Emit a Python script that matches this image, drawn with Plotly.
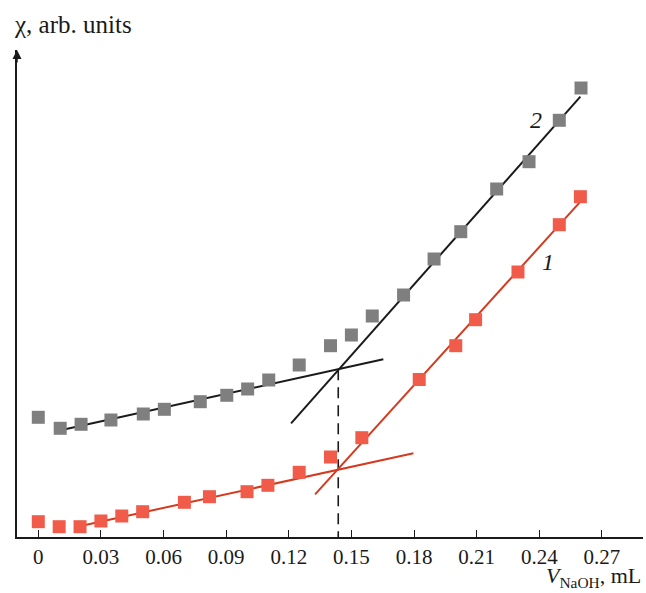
import plotly.graph_objects as go

# Series 1 (red)
x1 = [0, 0.01, 0.02, 0.03, 0.04, 0.05, 0.07, 0.082, 0.10, 0.11, 0.125, 0.14, 0.155, 0.1825, 0.20, 0.2095, 0.2298, 0.2496, 0.2597]
y1 = [1.53, 1.03, 1.03, 1.6, 2.1, 2.53, 3.47, 4.03, 4.53, 5.17, 6.47, 8.0, 9.93, 15.75, 19.13, 21.73, 26.5, 31.23, 34.03]
# Series 2 (gray)
x2 = [0, 0.0105, 0.0205, 0.0348, 0.0503, 0.0604, 0.0776, 0.0903, 0.1003, 0.1104, 0.125, 0.140, 0.150, 0.160, 0.175, 0.1896, 0.2024, 0.2196, 0.2351, 0.2496, 0.260]
y2 = [11.97, 10.87, 11.27, 11.7, 12.3, 12.77, 13.53, 14.17, 14.8, 15.7, 17.2, 19.13, 20.2, 22.1, 24.2, 27.8, 30.53, 34.8, 37.53, 41.67, 44.9]

# Fitted lines (endpoints)
fit1_low_x = [0.0203, 0.1797]
fit1_low_y = [1.1, 8.37]
fit1_high_x = [0.1326, 0.2597]
fit1_high_y = [4.27, 33.53]
fit2_low_x = [0.0112, 0.1653]
fit2_low_y = [10.7, 17.77]
fit2_high_x = [0.1211, 0.2597]
fit2_high_y = [11.37, 44.03]
# equivalence point
veq_x = [0.1437, 0.1437]
veq_y = [16.77, -0.6]

tick_vals = [0, 0.03, 0.06, 0.09, 0.12, 0.15, 0.18, 0.21, 0.24, 0.27]
tick_text = ["0", "0.03", "0.06", "0.09", "0.12", "0.15", "0.18", "0.21", "0.24", "0.27"]

RED_M = "#F15B4A"
GRAY_M = "#7F7F7F"
RED_L = "#D33A1F"
BLACK = "#1A1A1A"
FONT = "Liberation Serif"

fig = go.Figure()
fig.add_trace(go.Scatter(x=veq_x, y=veq_y, mode="lines",
                         line=dict(color=BLACK, width=1.6, dash="11px,7px"), cliponaxis=False))
fig.add_trace(go.Scatter(x=fit2_low_x, y=fit2_low_y, mode="lines", line=dict(color=BLACK, width=2)))
fig.add_trace(go.Scatter(x=fit2_high_x, y=fit2_high_y, mode="lines", line=dict(color=BLACK, width=2)))
fig.add_trace(go.Scatter(x=fit1_low_x, y=fit1_low_y, mode="lines", line=dict(color=RED_L, width=2)))
fig.add_trace(go.Scatter(x=fit1_high_x, y=fit1_high_y, mode="lines", line=dict(color=RED_L, width=2)))
fig.add_trace(go.Scatter(x=x2, y=y2, mode="markers",
                         marker=dict(symbol="square", size=13, color=GRAY_M, line=dict(width=0)),
                         cliponaxis=False))
fig.add_trace(go.Scatter(x=x1, y=y1, mode="markers",
                         marker=dict(symbol="square", size=13, color=RED_M, line=dict(width=0)),
                         cliponaxis=False))

fig.update_layout(
    width=646, height=593,
    margin=dict(l=17, r=3, t=50, b=56),
    plot_bgcolor="white", paper_bgcolor="white",
    showlegend=False,
    font=dict(family=FONT, color="#1A1A1A", size=22),
    xaxis=dict(range=[-0.0102, 0.2897], showgrid=False, zeroline=False,
               showline=True, linecolor=BLACK, linewidth=1.5,
               ticks="inside", ticklen=7, tickwidth=1.3, tickcolor=BLACK,
               tickvals=tick_vals, ticktext=tick_text, ticklabelstandoff=0,
               tickfont=dict(family=FONT, size=21, color=BLACK)),
    yaxis=dict(range=[0, 48.7], showgrid=False, zeroline=False,
               showline=True, linecolor=BLACK, linewidth=1.5,
               showticklabels=False, ticks=""),
    annotations=[
        dict(xref="paper", yref="paper", x=0, y=1, ax=0, ay=14, axref="pixel", ayref="pixel",
             showarrow=True, arrowhead=2, arrowsize=1.2, arrowwidth=1.5, arrowcolor=BLACK, text=""),
        dict(xref="paper", yref="paper", x=-0.008, y=1.0, yshift=26, xanchor="left", yanchor="middle",
             text="χ, arb. units", showarrow=False, font=dict(family=FONT, size=25, color=BLACK)),
        dict(xref="paper", yref="paper", x=1.0, y=0, yshift=-56, xanchor="right", yanchor="bottom",
             text="<i>V</i><sub>NaOH</sub>, mL", showarrow=False,
             font=dict(family=FONT, size=22, color=BLACK)),
        dict(x=0.2383, y=41.7, text="<i>2</i>", showarrow=False,
             font=dict(family=FONT, size=24, color=BLACK)),
        dict(x=0.2444, y=27.5, text="<i>1</i>", showarrow=False,
             font=dict(family=FONT, size=24, color=BLACK)),
    ],
)

fig.write_html("out.html")
